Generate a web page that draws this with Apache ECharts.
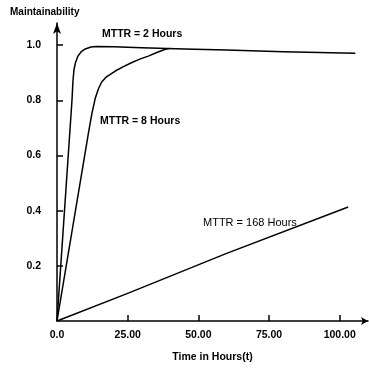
<!DOCTYPE html>
<html>
<head>
<meta charset="utf-8">
<script src="https://cdn.jsdelivr.net/npm/echarts@6/dist/echarts.min.js"></script>
<style>
  html, body { margin: 0; padding: 0; background: #fff; }
  #chart { width: 369px; height: 368px; }
</style>
</head>
<body>
<div id="chart"></div>
<script>
// values: [time in hours, maintainability]
const mttr2Times = [0, 5.3, 5.65, 6.0, 6.5, 7.4, 8.5, 10, 12, 14, 20, 30, 45, 60, 80, 105.5];
const mttr2Values = [0, 0.80, 0.87, 0.91, 0.935, 0.96, 0.975, 0.986, 0.993, 0.995, 0.994, 0.99, 0.986, 0.982, 0.976, 0.97];

const mttr8Times = [0, 11.1, 12.3, 13.5, 14.6, 15.8, 17.5, 20.6, 23.5, 26.5, 29.5, 32.3, 35.3, 38.3, 40];
const mttr8Values = [0, 0.68, 0.75, 0.806, 0.84, 0.866, 0.885, 0.906, 0.922, 0.937, 0.95, 0.96, 0.973, 0.985, 0.988];

const mttr168Times = [0, 25, 60, 103];
const mttr168Values = [0, 0.1, 0.245, 0.413];

const xTicks = [25, 50, 75, 100];
const xLabels = [0, 25, 50, 75, 100];
const yTicks = [0.2, 0.4, 0.6, 0.8, 1.0];

const font = '"Liberation Sans", Arial, sans-serif';

const pairs = (t, v) => t.map((x, i) => [x, v[i]]);

const lineSeries = (name, t, v) => ({
  name: name,
  type: "line",
  data: pairs(t, v),
  showSymbol: false,
  symbol: "none",
  lineStyle: { color: "#000", width: 1.5, join: "round" },
  silent: true,
});

const chart = echarts.init(document.getElementById("chart"));

chart.setOption({
  animation: false,
  backgroundColor: "#fff",
  grid: { left: 57, right: 1, top: 23, bottom: 40 },
  xAxis: {
    type: "value",
    min: 0,
    max: 110,
    name: "Time in Hours(t)",
    nameLocation: "middle",
    nameGap: 31,
    nameTextStyle: { color: "#000", fontFamily: font, fontWeight: "bold", fontSize: 10.5 },
    axisLine: {
      lineStyle: { color: "#000", width: 1.5 },
      symbol: ["none", "arrow"],
      symbolSize: [6, 7],
    },
    axisTick: {
      inside: true,
      length: 6,
      customValues: xTicks,
      lineStyle: { color: "#000", width: 1.5 },
    },
    axisLabel: {
      customValues: xLabels,
      margin: 9,
      color: "#000",
      fontFamily: font,
      fontWeight: "bold",
      fontSize: 10.5,
      formatter: (v) => (v === 0 ? "0.0" : v.toFixed(2)),
    },
    splitLine: { show: false },
  },
  yAxis: {
    type: "value",
    min: 0,
    max: 1.08,
    axisLine: {
      show: true,
      lineStyle: { color: "#000", width: 1.5 },
      symbol: ["none", "arrow"],
      symbolSize: [6, 11],
    },
    axisTick: {
      show: true,
      inside: true,
      length: 6,
      customValues: yTicks,
      lineStyle: { color: "#000", width: 1.5 },
    },
    axisLabel: {
      customValues: yTicks,
      margin: 16,
      color: "#000",
      fontFamily: font,
      fontWeight: "bold",
      fontSize: 10.5,
      formatter: (v) => v.toFixed(1),
    },
    splitLine: { show: false },
  },
  graphic: [
    {
      type: "text",
      style: { text: "Maintainability", x: 10, y: 12, verticalAlign: "middle", font: "bold 10px " + font, fill: "#000" },
    },
    {
      type: "text",
      style: { text: "MTTR = 2 Hours", x: 102, y: 34, verticalAlign: "middle", font: "bold 10.5px " + font, fill: "#000" },
    },
    {
      type: "text",
      style: { text: "MTTR = 8 Hours", x: 100, y: 121, verticalAlign: "middle", font: "bold 10.5px " + font, fill: "#000" },
    },
    {
      type: "text",
      style: { text: "MTTR = 168 Hours", x: 203, y: 223, verticalAlign: "middle", font: "11px " + font, fill: "#000" },
    },
  ],
  series: [
    lineSeries("MTTR = 2 Hours", mttr2Times, mttr2Values),
    lineSeries("MTTR = 8 Hours", mttr8Times, mttr8Values),
    lineSeries("MTTR = 168 Hours", mttr168Times, mttr168Values),
  ],
});
</script>
</body>
</html>
